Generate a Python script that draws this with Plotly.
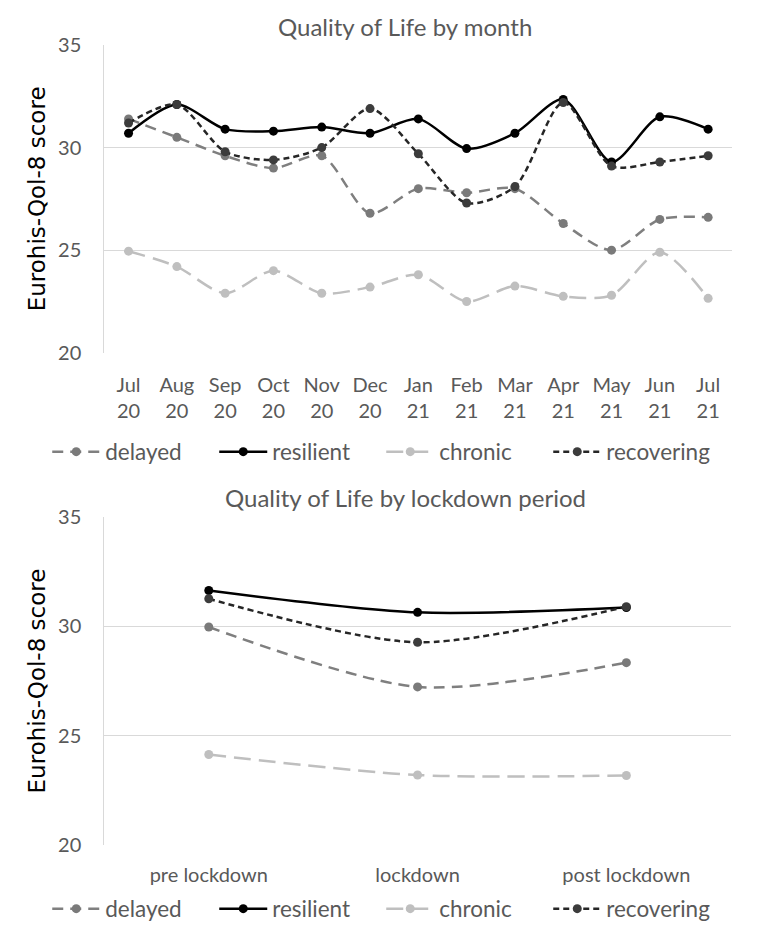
import plotly.graph_objects as go

months = ["Jul<br>20", "Aug<br>20", "Sep<br>20", "Oct<br>20", "Nov<br>20", "Dec<br>20",
          "Jan<br>21", "Feb<br>21", "Mar<br>21", "Apr<br>21", "May<br>21", "Jun<br>21", "Jul<br>21"]
delayed_m = [31.4, 30.5, 29.6, 29.0, 29.6, 26.8, 28.0, 27.8, 28.0, 26.3, 25.0, 26.5, 26.6]
resilient_m = [30.7, 32.1, 30.9, 30.8, 31.0, 30.7, 31.4, 29.95, 30.7, 32.35, 29.3, 31.5, 30.9]
chronic_m = [24.95, 24.2, 22.9, 24.0, 22.9, 23.2, 23.8, 22.5, 23.25, 22.75, 22.8, 24.9, 22.65]
recovering_m = [31.2, 32.1, 29.8, 29.4, 30.0, 31.9, 29.7, 27.3, 28.1, 32.2, 29.1, 29.3, 29.6]

periods = ["pre lockdown", "lockdown", "post lockdown"]
delayed_p = [29.97, 27.23, 28.34]
resilient_p = [31.64, 30.64, 30.86]
chronic_p = [24.14, 23.2, 23.18]
recovering_p = [31.26, 29.27, 30.9]

yticks = [20, 25, 30, 35]

styles = {
    "delayed": dict(line=dict(color="#7f7f7f", width=2.5, dash="11px,7px"), marker_color="#7a7a7a"),
    "resilient": dict(line=dict(color="#000000", width=2.5), marker_color="#000000"),
    "chronic": dict(line=dict(color="#bfbfbf", width=2.5, dash="17px,8px"), marker_color="#bfbfbf"),
    "recovering": dict(line=dict(color="#262626", width=2.5, dash="6px,4px"), marker_color="#3c3c3c"),
}

FONT = "Lato, Open Sans, sans-serif"

fig = go.Figure()
for name, vals in [("delayed", delayed_m), ("resilient", resilient_m), ("chronic", chronic_m), ("recovering", recovering_m)]:
    st = styles[name]
    fig.add_trace(go.Scatter(x=months, y=vals, name=name, mode="lines+markers",
                             line=dict(**st["line"], shape="spline", smoothing=0.8),
                             marker=dict(size=9, color=st["marker_color"]),
                             xaxis="x", yaxis="y", legend="legend"))
for name, vals in [("delayed", delayed_p), ("resilient", resilient_p), ("chronic", chronic_p), ("recovering", recovering_p)]:
    st = styles[name]
    fig.add_trace(go.Scatter(x=periods, y=vals, name=name, mode="lines+markers",
                             line=dict(**st["line"], shape="spline", smoothing=0.8),
                             marker=dict(size=9, color=st["marker_color"]),
                             xaxis="x2", yaxis="y2", legend="legend2"))

tickfont = dict(family=FONT, size=20, color="#595959")
axcommon = dict(showgrid=True, gridcolor="#d9d9d9", gridwidth=1.2, zeroline=False,
                tickfont=tickfont, ticks="", fixedrange=True, automargin=False, ticklabelstandoff=18)
ytitle = dict(text="Eurohis-Qol-8 score", font=dict(family="DejaVu Sans, Verdana, sans-serif", size=23, color="#000000"), standoff=6)
legfont = dict(family=FONT, size=22.5, color="#595959")

fig.update_layout(
    width=762, height=950,
    margin=dict(l=0, r=0, t=0, b=0, autoexpand=False),
    paper_bgcolor="white", plot_bgcolor="white",
    font=dict(family=FONT, color="#595959"),
    xaxis=dict(domain=[0.137, 0.961], anchor="y", showgrid=False, showline=False, automargin=False,
               tickfont=tickfont, ticks="", fixedrange=True, range=[-0.5, 12.5], ticklabelstandoff=18),
    yaxis=dict(domain=[0.6287, 0.9526], anchor="x", range=[20, 35], tickvals=yticks,
               showline=True, linecolor="#d9d9d9", linewidth=1.2, title=ytitle, **axcommon),
    xaxis2=dict(domain=[0.137, 0.959], anchor="y2", showgrid=False, showline=False, automargin=False,
                tickfont=tickfont, ticks="", fixedrange=True, range=[-0.5, 2.5], ticklabelstandoff=16),
    yaxis2=dict(domain=[0.1105, 0.4558], anchor="x2", range=[20, 35], tickvals=yticks,
                showline=True, linecolor="#d9d9d9", linewidth=1.2, title=ytitle, **axcommon),
    legend=dict(orientation="h", x=0.062, xanchor="left", y=1 - 452 / 950, yanchor="middle",
                font=legfont, itemwidth=48, tracegroupgap=0, entrywidthmode="pixels", entrywidth=104),
    legend2=dict(orientation="h", x=0.062, xanchor="left", y=1 - 909 / 950, yanchor="middle",
                 font=legfont, itemwidth=48, tracegroupgap=0, entrywidthmode="pixels", entrywidth=104),
    annotations=[
        dict(text="Quality of Life by month", x=0.532, y=1 - 27 / 950, xref="paper", yref="paper",
             xanchor="center", yanchor="middle",
             showarrow=False, font=dict(family=FONT, size=24, color="#595959")),
        dict(text="Quality of Life by lockdown period", x=0.532, y=1 - 497 / 950, xref="paper", yref="paper",
             xanchor="center", yanchor="middle",
             showarrow=False, font=dict(family=FONT, size=24, color="#595959")),
    ],
)

fig.write_html("out.html", post_script="document.body.style.margin='0';",
               config={"displayModeBar": False})
